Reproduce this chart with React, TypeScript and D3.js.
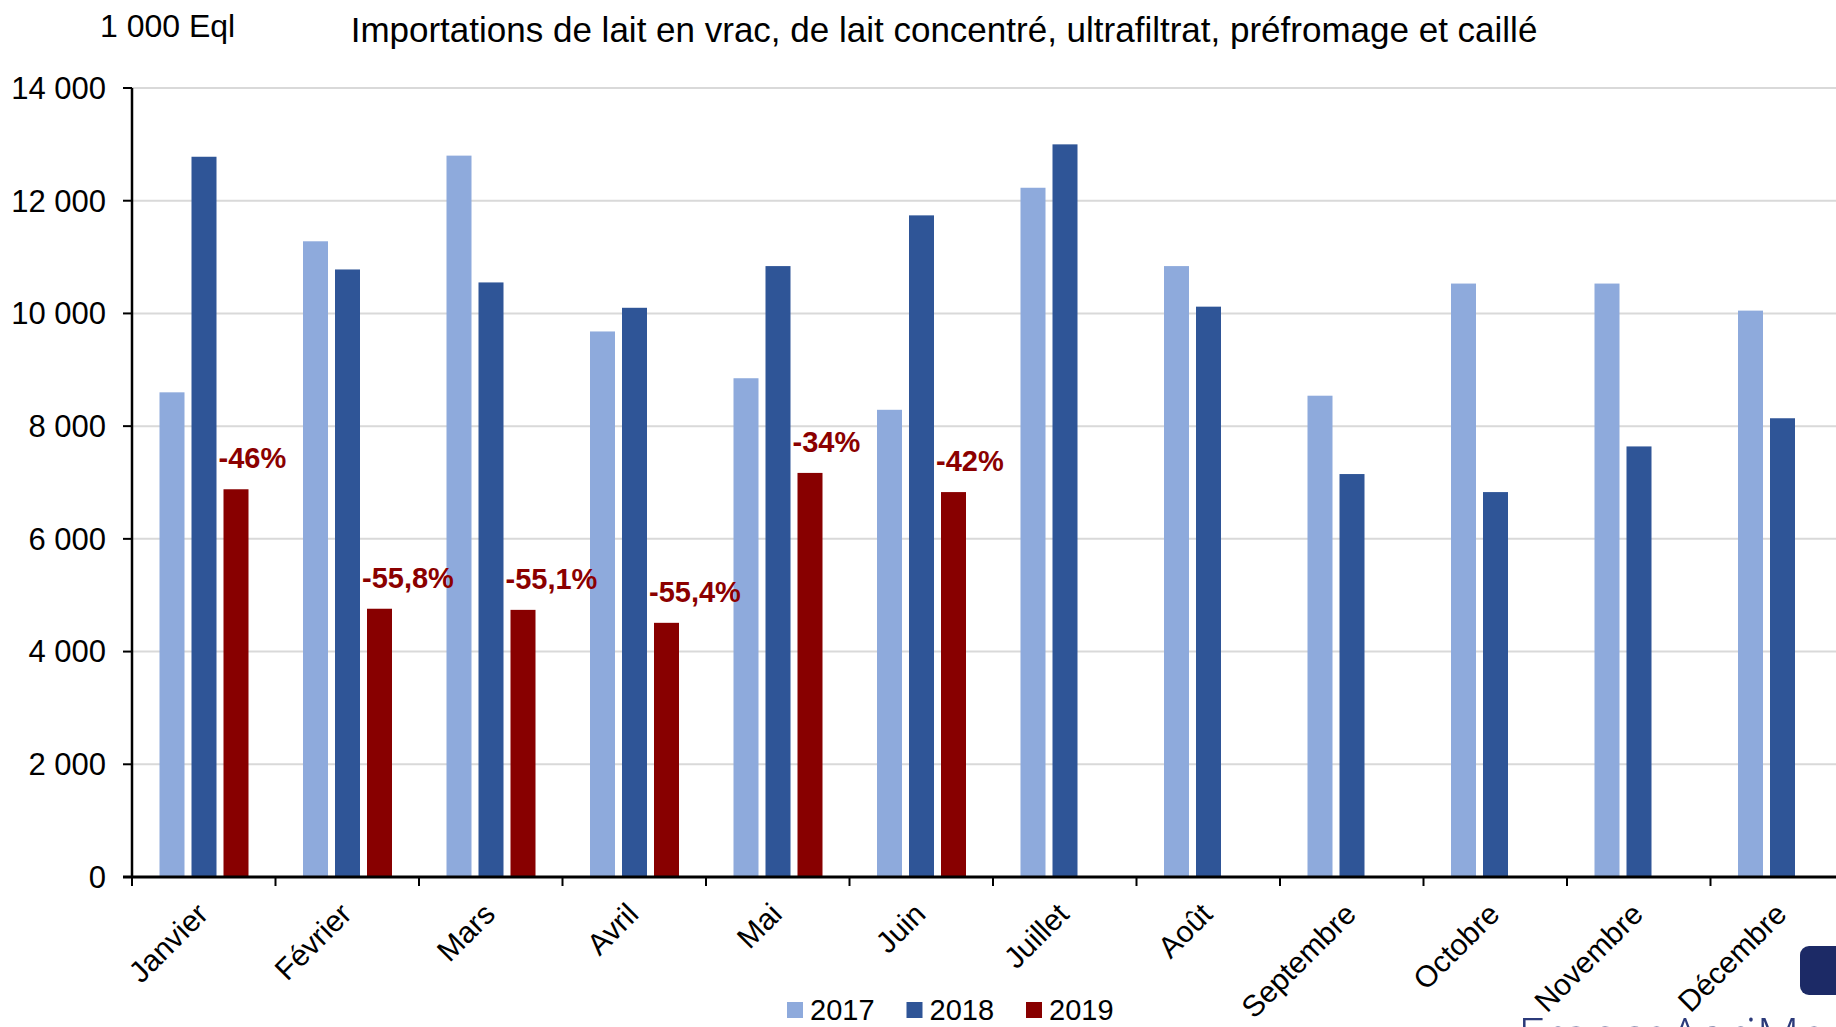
import React from "react";
import * as d3 from "d3";

const months = ["Janvier", "Février", "Mars", "Avril", "Mai", "Juin", "Juillet", "Août", "Septembre", "Octobre", "Novembre", "Décembre"];
const seriesNames = ["2017", "2018", "2019"];
const values2017 = [8600, 11280, 12800, 9680, 8850, 8290, 12230, 10840, 8540, 10530, 10530, 10050];
const values2018 = [12780, 10780, 10550, 10100, 10840, 11740, 13000, 10120, 7150, 6830, 7640, 8140];
const values2019: (number | null)[] = [6880, 4760, 4740, 4510, 7170, 6830, null, null, null, null, null, null];
const changeLabels = ["-46%", "-55,8%", "-55,1%", "-55,4%", "-34%", "-42%"];
const yTicks = [0, 2000, 4000, 6000, 8000, 10000, 12000, 14000];
const colors = ["#8eaadc", "#2f5597", "#880000"];
const titleText = "Importations de lait en vrac, de lait concentré, ultrafiltrat, préfromage et caillé";
const unitText = "1 000 Eql";

const W = 1836;
const H = 1027;
const FONT = "'Liberation Sans', Arial, sans-serif";

export default function App() {
  const left = 132;
  const bandW = 143.5;
  const x = d3.scaleBand<string>().domain(months).range([left, left + bandW * months.length]).padding(0);
  const x1 = d3.scaleBand<string>().domain(seriesNames).range([27.5, 27.5 + 89]).paddingInner(0.21875).paddingOuter(0);
  const y = d3.scaleLinear().domain([0, 14000]).range([877, 88]);
  const fmt = d3.formatLocale({ decimal: ",", thousands: " ", grouping: [3], currency: ["", "€"] }).format(",d");
  const allSeries = [values2017, values2018, values2019];

  return (
    <svg width={W} height={H} style={{ position: "absolute", left: 0, top: 0, background: "#fff" }} fontFamily={FONT}>
      <rect width={W} height={H} fill="#fff" />
      {yTicks.filter((t) => t > 0).map((t) => (
        <line key={t} x1={left} x2={W} y1={y(t)} y2={y(t)} stroke="#d9d9d9" strokeWidth={2} />
      ))}
      {allSeries.map((vals, si) =>
        vals.map((v, mi) =>
          v == null ? null : (
            <rect
              key={`${si}-${mi}`}
              x={(x(months[mi]) as number) + (x1(seriesNames[si]) as number)}
              y={y(v)}
              width={x1.bandwidth()}
              height={y(0) - y(v)}
              fill={colors[si]}
            />
          )
        )
      )}
      {changeLabels.map((lab, i) => {
        const v = values2019[i] as number;
        return (
          <text
            key={lab + i}
            x={(x(months[i]) as number) + (x1("2019") as number) - 5}
            y={y(v) - 21}
            fontSize={29}
            fontWeight="bold"
            fill="#8b0000"
          >
            {lab}
          </text>
        );
      })}
      <line x1={left} x2={left} y1={y(14000)} y2={y(0)} stroke="#000" strokeWidth={2.5} />
      {yTicks.map((t) => (
        <g key={t}>
          <line x1={left - 9} x2={left} y1={y(t)} y2={y(t)} stroke="#000" strokeWidth={2} />
          <text x={106} y={y(t)} dy="0.35em" textAnchor="end" fontSize={31} fill="#000">
            {fmt(t)}
          </text>
        </g>
      ))}
      <line x1={left - 9} x2={W} y1={y(0)} y2={y(0)} stroke="#000" strokeWidth={3} />
      {months.map((m) => (
        <line key={m} x1={x(m) as number} x2={x(m) as number} y1={y(0)} y2={y(0) + 9} stroke="#000" strokeWidth={2} />
      ))}
      {months.map((m) => {
        const cx = (x(m) as number) + x.bandwidth() / 2 + 6;
        const cy = y(0) + 39;
        return (
          <text key={m} x={cx} y={cy} textAnchor="end" fontSize={30} fill="#000" transform={`rotate(-45, ${cx}, ${cy})`}>
            {m}
          </text>
        );
      })}
      <text x={100} y={37} fontSize={32} fill="#000">{unitText}</text>
      <text x={944} y={42} textAnchor="middle" fontSize={35} fill="#000">{titleText}</text>
      {seriesNames.map((s, i) => {
        const lx = 787 + i * 119.5;
        return (
          <g key={s}>
            <rect x={lx} y={1002} width={16} height={16} fill={colors[i]} />
            <text x={lx + 23} y={1020} fontSize={29} fill="#000">{s}</text>
          </g>
        );
      })}
      <rect x={1800} y={946} width={60} height={49} rx={9} fill="#1c2a66" />
      <text x={1518} y={1054} fontSize={50} fill="#2b3a7a" fontWeight={300} fontFamily="'Open Sans', sans-serif">FranceAgriMer</text>
    </svg>
  );
}
